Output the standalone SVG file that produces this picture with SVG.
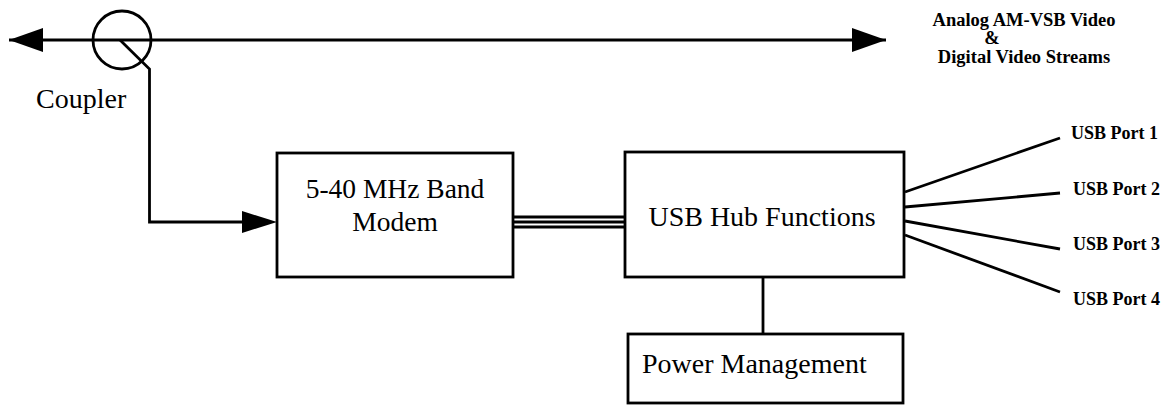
<svg xmlns="http://www.w3.org/2000/svg" width="1161" height="405" viewBox="0 0 1161 405">
<style>
.box{fill:#fff;stroke:#000;stroke-width:2.8}
.ln{fill:none;stroke:#000;stroke-width:2.8}
.t{font-family:"Liberation Serif","Times New Roman",serif;font-size:28px;fill:#000}
.s{font-family:"Liberation Serif","Times New Roman",serif;font-size:18.5px;font-weight:bold;fill:#000}
.p{font-family:"Liberation Serif","Times New Roman",serif;font-size:18px;font-weight:bold;fill:#000}
</style>
<defs>
<marker id="ah" markerUnits="userSpaceOnUse" markerWidth="36" markerHeight="24" refX="34" refY="12" orient="auto-start-reverse">
<path d="M0,0 L34,12 L0,24 Z" fill="#000"/>
</marker>
</defs>
<rect width="1161" height="405" fill="#fff"/>
<g id="connectors">
<line class="ln" x1="9" y1="40" x2="886" y2="40" marker-start="url(#ah)" marker-end="url(#ah)"/>
<circle class="ln" cx="122" cy="40" r="29"/>
<polyline class="ln" points="120,40 149.5,69 149.5,222 242,222" />
<path d="M242,211 L277,222 L242,233 Z" fill="#000"/>
<line class="ln" x1="513" y1="217" x2="625" y2="217" stroke-width="3.4"/>
<line class="ln" x1="513" y1="222" x2="625" y2="222" stroke-width="2.6"/>
<line class="ln" x1="513" y1="227" x2="625" y2="227" stroke-width="2.6"/>
<line class="ln" x1="763" y1="277" x2="763" y2="334"/>
<line class="ln" x1="905" y1="192" x2="1060" y2="138"/>
<line class="ln" x1="905" y1="207" x2="1060" y2="193"/>
<line class="ln" x1="905" y1="221" x2="1060" y2="249"/>
<line class="ln" x1="905" y1="235" x2="1060" y2="292"/>
</g>
<g id="coupler-label">
<text class="t" x="36" y="108">Coupler</text>
</g>
<g id="video-label">
<text class="s" x="1024" y="26" text-anchor="middle">Analog AM-VSB Video</text>
<text class="s" x="992" y="44" text-anchor="middle">&amp;</text>
<text class="s" x="1024" y="63" text-anchor="middle">Digital Video Streams</text>
</g>
<g id="modem">
<rect class="box" x="277" y="153" width="236" height="124"/>
<text class="t" x="395" y="198" text-anchor="middle" style="font-size:27.5px">5-40 MHz Band</text>
<text class="t" x="395" y="231" text-anchor="middle" style="font-size:27.5px">Modem</text>
</g>
<g id="hub">
<rect class="box" x="625" y="152" width="279" height="125"/>
<text class="t" x="762" y="226" text-anchor="middle">USB Hub Functions</text>
</g>
<g id="power">
<rect class="box" x="628" y="334" width="275" height="69"/>
<text class="t" x="642" y="373">Power Management</text>
</g>
<g id="ports">
<text class="p" x="1071" y="139">USB Port 1</text>
<text class="p" x="1073" y="195">USB Port 2</text>
<text class="p" x="1073" y="250">USB Port 3</text>
<text class="p" x="1073" y="305">USB Port 4</text>
</g>
</svg>
